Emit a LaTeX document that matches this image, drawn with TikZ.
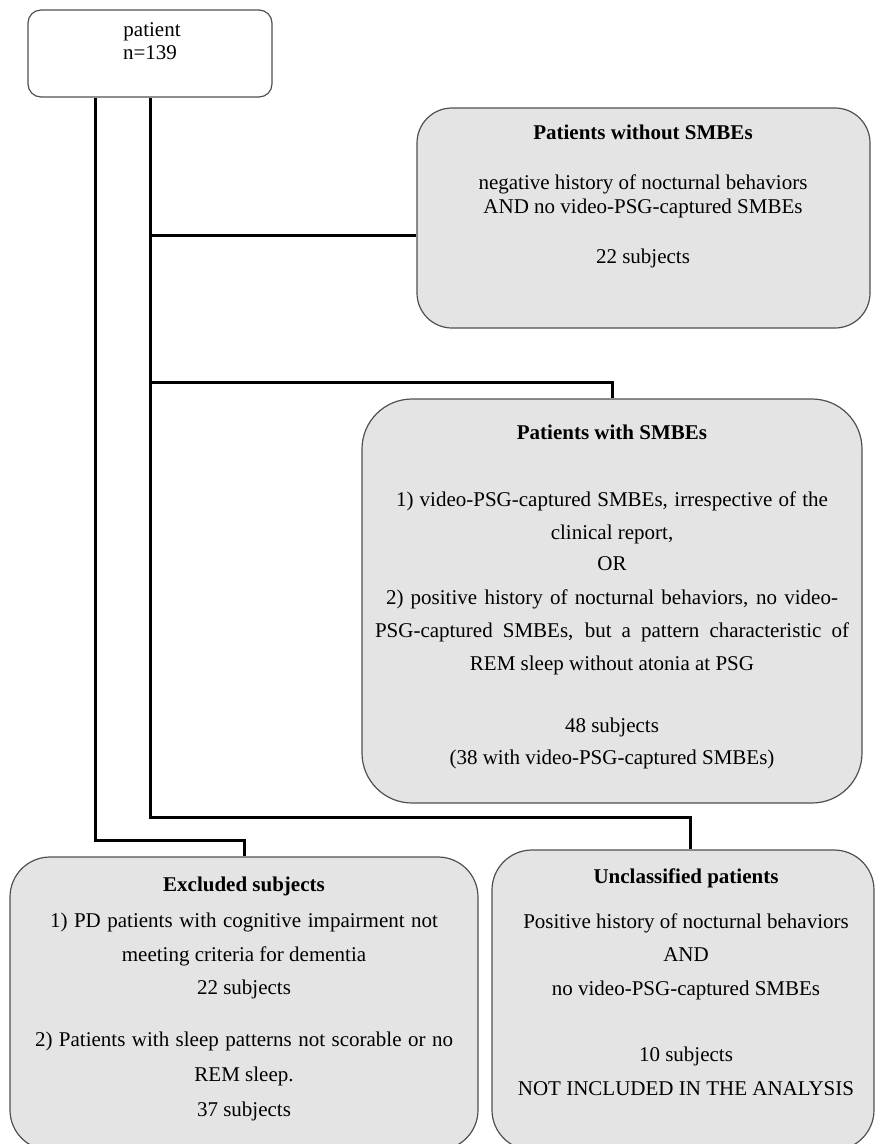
\documentclass[tikz,border=0pt]{standalone}
\usepackage{fontspec}
\setmainfont{Liberation Serif}
\definecolor{boxfill}{HTML}{E4E4E4}
\definecolor{boxline}{HTML}{505050}
\tikzset{
  greybox/.style={draw=boxline, line width=1.2pt, fill=boxfill, inner sep=0pt},
  whitebox/.style={draw=boxline, line width=1.2pt, fill=white, rounded corners=13pt, inner sep=0pt},
  conn/.style={draw=black, line width=3pt},
  txt/.style={anchor=base, inner sep=0pt, font=\fontsize{21}{24}\selectfont},
  ttl/.style={anchor=base, inner sep=0pt, font=\fontsize{21}{24}\selectfont\bfseries},
}
\begin{document}
\begin{tikzpicture}[x=1pt,y=-1pt]
\useasboundingbox (0,0) rectangle (876,1144);
\clip (0,0) rectangle (876,1144);
\fill[white] (0,0) rectangle (876,1144);

% boxes
\node[whitebox, minimum width=244pt, minimum height=87pt] (patient) at (150,53.5) {};
\node[greybox, rounded corners=35pt, minimum width=453pt, minimum height=220pt] (wo) at (643.5,218) {};
\node[greybox, rounded corners=50pt, minimum width=500pt, minimum height=404pt] (smbe) at (612,601) {};
\node[greybox, rounded corners=40pt, minimum width=468pt, minimum height=293pt] (excl) at (244,1003.5) {};
\node[greybox, rounded corners=40pt, minimum width=382pt, minimum height=300pt] (uncl) at (683,1000) {};

% patient text
\node[txt] (p1) at (152,36) {patient};
\node[txt] (p2) at (150,59) {n=139};

% without SMBEs
\node[ttl] (w0) at (643,139) {Patients without SMBEs};
\node[txt] (w1) at (643,189) {negative history of nocturnal behaviors};
\node[txt] (w2) at (643,213) {AND no video-PSG-captured SMBEs};
\node[txt] (w3) at (643,263) {22 subjects};

% with SMBEs
\node[ttl] (s0) at (612,439) {Patients with SMBEs};
\node[txt] (s1) at (612,506) {\makebox[432pt][s]{1) video-PSG-captured SMBEs, irrespective of the}};
\node[txt] (s2) at (612,539) {clinical report,};
\node[txt] (s3) at (612,570) {OR};
\node[txt] (s4) at (612,604) {\makebox[452pt][s]{2) positive history of nocturnal behaviors, no video-}};
\node[txt] (s5) at (612,637) {\makebox[474pt][s]{PSG-captured SMBEs, but a pattern characteristic of}};
\node[txt] (s6) at (612,670) {REM sleep without atonia at PSG};
\node[txt] (s7) at (612,732) {48 subjects};
\node[txt] (s8) at (612,764) {(38 with video-PSG-captured SMBEs)};

% excluded
\node[ttl] (e0) at (244,891) {Excluded subjects};
\node[txt] (e1) at (244,927) {\makebox[388pt][s]{1) PD patients with cognitive impairment not}};
\node[txt] (e2) at (244,961) {meeting criteria for dementia};
\node[txt] (e3) at (244,994) {22 subjects};
\node[txt] (e4) at (244,1046) {\makebox[418pt][s]{2) Patients with sleep patterns not scorable or no}};
\node[txt] (e5) at (244,1081) {REM sleep.};
\node[txt] (e6) at (244,1116) {37 subjects};

% unclassified
\node[ttl] (u0) at (686,883) {Unclassified patients};
\node[txt] (u1) at (686,928) {Positive history of nocturnal behaviors};
\node[txt] (u2) at (686,961) {AND};
\node[txt] (u3) at (686,995) {no video-PSG-captured SMBEs};
\node[txt] (u4) at (686,1061) {10 subjects};
\node[txt] (u5) at (686,1095) {NOT INCLUDED IN THE ANALYSIS};

% connectors
\coordinate (j1) at (95,840);
\coordinate (j2) at (150,817);
\coordinate (b1) at (150,235);
\coordinate (b2) at (150,382);
\draw[conn] (patient.south -| j1) -- (j1) -| (excl.north);
\draw[conn] (patient.south) -- (j2) -| ([xshift=7pt]uncl.north);
\draw[conn] (b1) -- (b1 -| wo.west);
\draw[conn] (b2) -| (smbe.north);
\end{tikzpicture}
\end{document}
